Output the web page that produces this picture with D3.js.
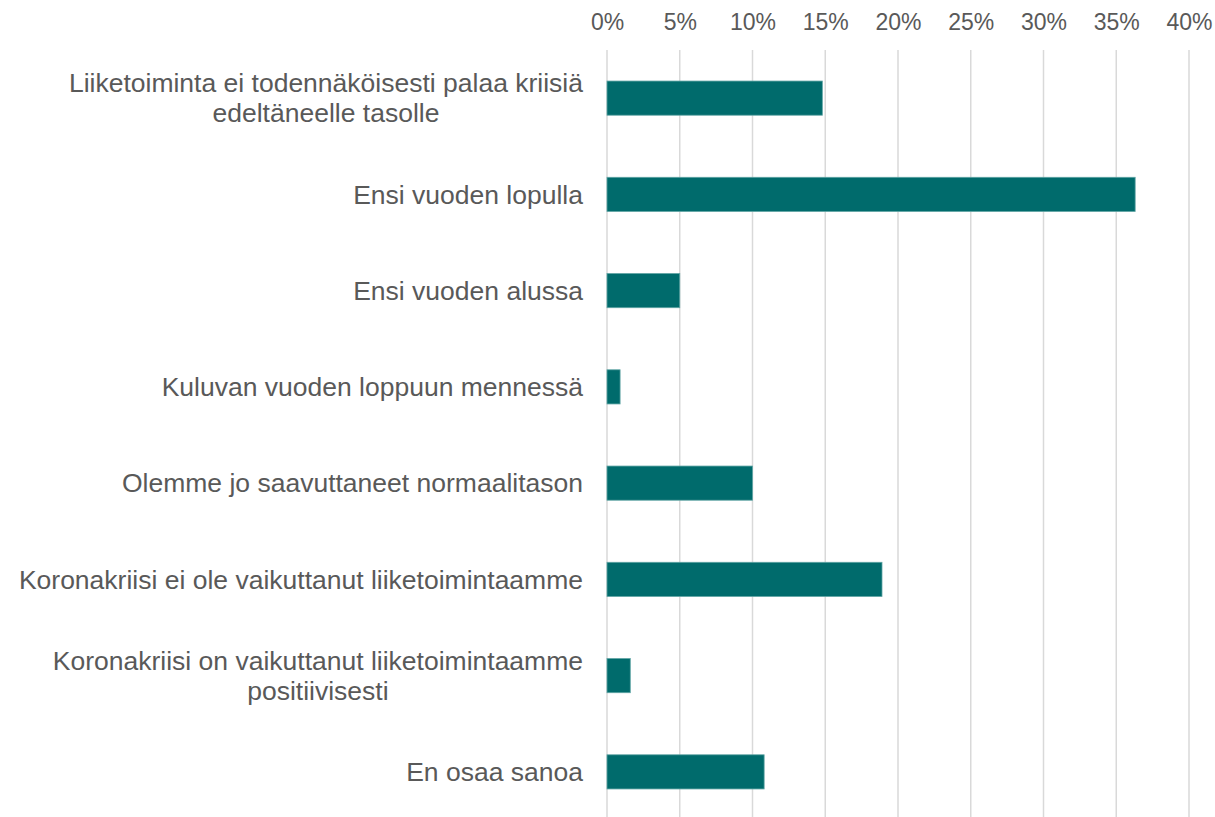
<!DOCTYPE html>
<html><head><meta charset="utf-8">
<script src="https://cdn.jsdelivr.net/npm/d3@7"></script>
<style>body{margin:0;background:#fff;} svg{display:block;}</style>
</head><body>
<svg id="c" width="1215" height="817"></svg>
<script>
const categories = [
  ["Liiketoiminta ei todennäköisesti palaa kriisiä", "edeltäneelle tasolle"],
  ["Ensi vuoden lopulla"],
  ["Ensi vuoden alussa"],
  ["Kuluvan vuoden loppuun mennessä"],
  ["Olemme jo saavuttaneet normaalitason"],
  ["Koronakriisi ei ole vaikuttanut liiketoimintaamme"],
  ["Koronakriisi on vaikuttanut liiketoimintaamme", "positiivisesti"],
  ["En osaa sanoa"]
];
const values = [14.8, 36.3, 5.0, 0.9, 10.0, 18.9, 1.6, 10.8];
const ticks = [0, 5, 10, 15, 20, 25, 30, 35, 40];

const svg = d3.select("#c");
const font = "'Liberation Sans', Arial, sans-serif";
const textColor = "#595959";
const x = d3.scaleLinear().domain([0, 40]).range([607, 1189]);
const y = d3.scaleBand().domain(d3.range(categories.length)).range([50, 820]).paddingInner(0.645).paddingOuter(0.3225);

// gridlines
svg.append("g").selectAll("line").data(ticks).join("line")
  .attr("x1", d => x(d)).attr("x2", d => x(d))
  .attr("y1", 50).attr("y2", 817)
  .attr("stroke", "#d9d9d9").attr("stroke-width", 1.5);

// axis labels
const ax = d3.axisTop(x).tickValues(ticks).tickFormat(d => d + "%").tickSize(0).tickPadding(0);
const axg = svg.append("g").attr("transform", "translate(0,30)").call(ax);
axg.select(".domain").remove();
axg.selectAll("text").attr("font-family", font).attr("font-size", 23).attr("fill", textColor);

// bars
svg.append("g").selectAll("rect").data(values).join("rect")
  .attr("x", x(0)).attr("y", (d, i) => y(i))
  .attr("width", d => x(d) - x(0)).attr("height", y.bandwidth())
  .attr("fill", "#006b6c").attr("stroke", "#5fa4a4").attr("stroke-width", 0.8);

// category labels
const lg = svg.append("g");
categories.forEach((lines, i) => {
  const cy = y(i) + y.bandwidth() / 2;
  const g = lg.append("g");
  const lh = 30;
  const ts = lines.map((t, j) => g.append("text")
    .attr("font-family", font).attr("font-size", 26.5).attr("fill", textColor)
    .attr("dy", "0.35em")
    .attr("y", cy + (j - (lines.length - 1) / 2) * lh)
    .text(t));
  const w = d3.max(ts, t => t.node().getComputedTextLength());
  ts.forEach(t => t.attr("text-anchor", "middle").attr("x", 583 - w / 2));
});
</script>
</body></html>
